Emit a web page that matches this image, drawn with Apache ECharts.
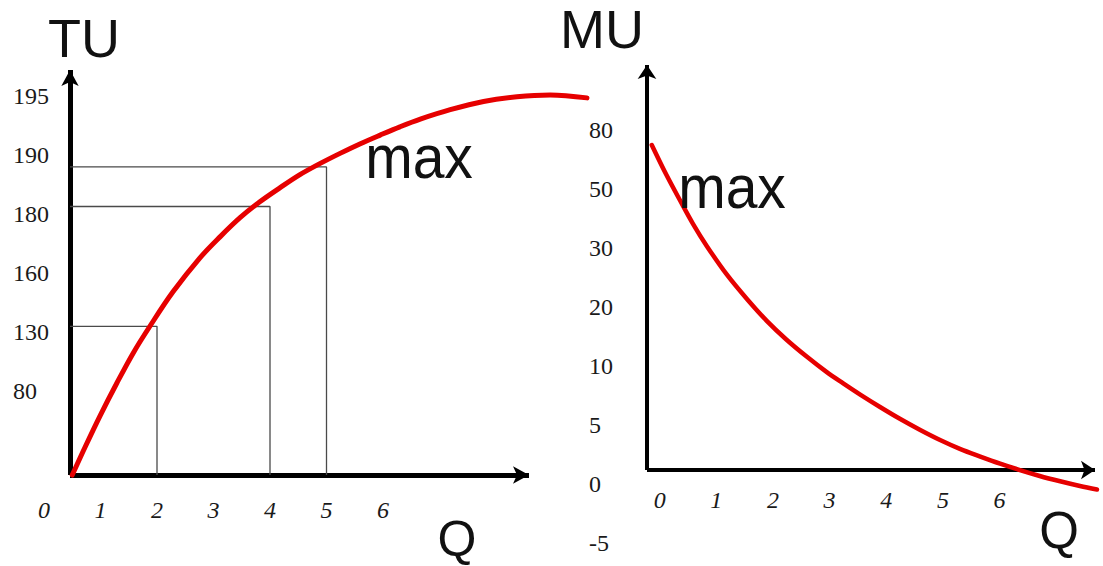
<!DOCTYPE html>
<html><head><meta charset="utf-8">
<script src="https://cdn.jsdelivr.net/npm/echarts@6/dist/echarts.min.js"></script>
<style>html,body{margin:0;padding:0;background:#fff}#c{width:1103px;height:566px}</style>
</head><body><div id="c"></div>
<script>
// ---- data ----
const qLabels = ['0','1','2','3','4','5','6'];
const tuLabels = ['80','130','160','180','190','195'];          // ordinal positions 1..6
const muLabels = ['-5','0','5','10','20','30','50','80'];       // ordinal positions -1..6
const tuQ = [0.50,0.73,0.99,1.29,1.58,1.88,2.28,2.76,3.12,3.47,3.82,4.18,4.53,4.89,5.24,5.59,5.95,6.30,6.66,7.19,7.78,8.37,8.96,9.61];
const tuLevel = [-0.42,0.06,0.58,1.14,1.65,2.11,2.68,3.26,3.62,3.94,4.21,4.45,4.67,4.86,5.03,5.19,5.34,5.48,5.61,5.77,5.91,5.99,6.02,5.97];
const muQ = [-0.14,0.12,0.36,0.59,0.83,1.18,1.54,1.89,2.24,2.60,2.95,3.24,3.54,3.89,4.24,4.60,4.95,5.30,5.66,6.01,6.36,6.71,7.07,7.42,7.72];
const muLevel = [5.75,5.24,4.81,4.41,4.04,3.56,3.14,2.77,2.45,2.16,1.90,1.71,1.52,1.31,1.11,0.92,0.75,0.60,0.47,0.35,0.24,0.14,0.05,-0.03,-0.09];
const guideQ = [2,4,5];
const guideLevel = [2.10,4.13,4.80];

// ---- layout ----
const L = {ox:44, kx:56.5, oy:450.3, ky:59.03};
const R = {ox:659.7, kx:56.64, oy:484.25, ky:59};
const toQ = (s,px)=> (px - s.ox)/s.kx;
const toV = (s,py)=> (s.oy - py)/s.ky;
function gridBox(s, xr, yr){
  const l = s.ox + s.kx*xr[0], r = s.ox + s.kx*xr[1];
  const t = s.oy - s.ky*yr[1], b = s.oy - s.ky*yr[0];
  return {left:l, top:t, width:r-l, height:b-t, containLabel:false, outerBoundsMode:'none'};
}
const LX = [toQ(L,70), toQ(L,529)], LY = [toV(L,475), toV(L,70)];
const RX = [toQ(R,647), toQ(R,1095)], RY = [toV(R,470), toV(R,65)];
const LXwide = [-0.5, 9.8];
const RXwide = [RX[0], 7.85], RYwide = [-1.5, RY[1]];

const RED = '#e60000';
const serif = '"Liberation Serif","Times New Roman",serif';
const sans = '"Liberation Sans",Arial,sans-serif';

function frameLine(w, sz){
  return {show:true, onZero:false, symbol:['none','arrow'], symbolSize:sz, lineStyle:{color:'#000', width:w, cap:'butt'}};
}
const off = {show:false};
function lbl(values, fmt, extra){
  return Object.assign({show:true, customValues:values, formatter:fmt, fontFamily:serif, fontSize:24, color:'#1a1a1a', interval:0}, extra);
}

const guideSeries = guideQ.map((q,i)=>({
  type:'line', xAxisIndex:0, yAxisIndex:0, showSymbol:false, silent:true, z:2,
  lineStyle:{color:'#4a4a4a', width:1.3},
  data:[[LX[0], guideLevel[i]],[q, guideLevel[i]],[q, LY[0]]]
}));

const chart = echarts.init(document.getElementById('c'), null, {renderer:'svg'});
chart.setOption({
  animation:false,
  backgroundColor:'#ffffff',
  grid:[gridBox(L,LX,LY), gridBox(L,LXwide,LY), gridBox(R,RX,RY), gridBox(R,RXwide,RYwide)],
  xAxis:[
    {type:'value', gridIndex:0, min:LX[0], max:LX[1], axisLine:frameLine(5,[13,16]), axisTick:off, axisLabel:off, splitLine:off},
    {type:'value', gridIndex:1, min:LXwide[0], max:LXwide[1], axisLine:off, axisTick:off, splitLine:off,
      axisLabel:lbl([0,1,2,3,4,5,6], v=>qLabels[Math.round(v)], {margin:35, verticalAlign:'middle', fontStyle:'italic'})},
    {type:'value', gridIndex:2, min:RX[0], max:RX[1], axisLine:frameLine(4,[14,14]), axisTick:off, splitLine:off,
      axisLabel:lbl([0,1,2,3,4,5,6], v=>qLabels[Math.round(v)], {margin:30, verticalAlign:'middle', fontStyle:'italic'})},
    {type:'value', gridIndex:3, min:RXwide[0], max:RXwide[1], show:false, splitLine:off}
  ],
  yAxis:[
    {type:'value', gridIndex:0, min:LY[0], max:LY[1], axisLine:frameLine(5,[13,16]), axisTick:off, splitLine:off,
      axisLabel:lbl([1,2,3,4,5,6], v=>tuLabels[Math.round(v)-1], {margin:57, align:'left', verticalAlign:'middle'})},
    {type:'value', gridIndex:1, min:LY[0], max:LY[1], show:false, splitLine:off},
    {type:'value', gridIndex:2, min:RY[0], max:RY[1], axisLine:frameLine(4,[14,14]), axisTick:off, axisLabel:off, splitLine:off},
    {type:'value', gridIndex:3, min:RYwide[0], max:RYwide[1], axisLine:off, axisTick:off, splitLine:off,
      axisLabel:lbl([-1,0,1,2,3,4,5,6], v=>muLabels[Math.round(v)+1], {margin:58, align:'left', verticalAlign:'middle'})}
  ],
  series:[
    ...guideSeries,
    {type:'line', xAxisIndex:1, yAxisIndex:1, showSymbol:false, smooth:0.35, clip:false, z:5,
      lineStyle:{color:RED, width:5, cap:'round'}, data:tuQ.map((q,i)=>[q,tuLevel[i]])},
    {type:'line', xAxisIndex:3, yAxisIndex:3, showSymbol:false, smooth:0.35, clip:false, z:5,
      lineStyle:{color:RED, width:4.5, cap:'round'}, data:muQ.map((q,i)=>[q,muLevel[i]])}
  ],
  graphic:[
    {type:'text', x:84, y:38, z:10, style:{text:'TU', font:'54px '+sans, fill:'#111', align:'center', verticalAlign:'middle', textAlign:'center', textVerticalAlign:'middle'}},
    {type:'text', x:602, y:29, z:10, style:{text:'MU', font:'54px '+sans, fill:'#111', align:'center', verticalAlign:'middle', textAlign:'center', textVerticalAlign:'middle'}},
    {type:'text', x:457, y:539, z:10, style:{text:'Q', font:'50px '+sans, fill:'#111', align:'center', verticalAlign:'middle', textAlign:'center', textVerticalAlign:'middle'}},
    {type:'text', x:1059, y:530, z:10, style:{text:'Q', font:'51px '+sans, fill:'#111', align:'center', verticalAlign:'middle', textAlign:'center', textVerticalAlign:'middle'}},
    {type:'text', x:419, y:157, z:10, scaleY:1.06, style:{text:'max', font:'57px '+sans, fill:'#111', align:'center', verticalAlign:'middle', textAlign:'center', textVerticalAlign:'middle'}},
    {type:'text', x:732, y:187, z:10, scaleY:1.06, style:{text:'max', font:'57px '+sans, fill:'#111', align:'center', verticalAlign:'middle', textAlign:'center', textVerticalAlign:'middle'}}
  ]
});
</script></body></html>
